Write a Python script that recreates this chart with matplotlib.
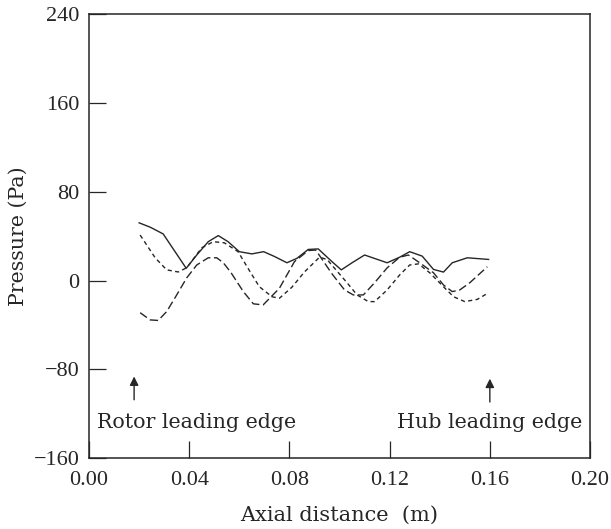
import matplotlib
matplotlib.use("Agg")
import matplotlib.pyplot as plt

# solid curve
x_solid = [0.020, 0.0245, 0.0296, 0.0388, 0.043, 0.0476, 0.0516, 0.0555, 0.060, 0.065,
           0.0697, 0.074, 0.079, 0.083, 0.0875, 0.0915, 0.097, 0.1007, 0.105, 0.110,
           0.1145, 0.119, 0.124, 0.128, 0.133, 0.1375, 0.1415, 0.145, 0.151, 0.1595]
p_solid = [52, 48, 42, 11, 23, 35, 40.5, 35, 26, 24,
           26, 21.7, 16, 20, 28, 28.5, 17, 9.6, 16, 23,
           19.5, 16, 21, 26, 22, 10, 7.6, 16, 20.5, 19]

# short dashed curve
x_short = [0.0204, 0.0264, 0.031, 0.0356, 0.039, 0.045, 0.0496, 0.054, 0.0595, 0.064,
           0.068, 0.073, 0.076, 0.081, 0.086, 0.092, 0.095, 0.0975, 0.103, 0.107,
           0.1115, 0.114, 0.119, 0.124, 0.128, 0.1315, 0.136, 0.1415, 0.1455, 0.150,
           0.155, 0.1595]
p_short = [41, 20.5, 9.6, 7.7, 11.5, 29.5, 35, 34, 26, 9,
           -5.6, -14.6, -16, -6, 7.7, 21, 19, 12.4, -2, -13,
           -19, -19, -8.5, 5, 14, 15, 7, -5.6, -14.6, -19,
           -17, -11]

# long dashed curve
x_long = [0.0204, 0.0244, 0.0276, 0.031, 0.035, 0.039, 0.043, 0.0476, 0.051, 0.0536,
          0.0565, 0.0616, 0.0656, 0.0695, 0.076, 0.082, 0.0875, 0.0905, 0.097, 0.102,
          0.1055, 0.1095, 0.114, 0.119, 0.124, 0.1275, 0.132, 0.1375, 0.1415, 0.145,
          0.148, 0.152, 0.159]
p_long = [-29, -35.5, -36, -28, -13, 2.4, 14, 20.5, 20.5, 16,
          7.7, -10, -21, -22, -7, 17, 27, 27.5, 6, -8.5,
          -13, -13, -2, 11.4, 21, 23, 16, 7, -4, -10,
          -8.5, -2, 12.4]

x_ticks = [0.00, 0.04, 0.08, 0.12, 0.16, 0.20]
x_ticklabels = ['0.00', '0.04', '0.08', '0.12', '0.16', '0.20']
y_ticks = [-160, -80, 0, 80, 160, 240]
y_ticklabels = ['\u2212160', '\u221280', '0', '80', '160', '240']

plt.rcParams['font.family'] = ['DejaVu Serif']

fig = plt.figure(figsize=(6.11, 5.29), dpi=100)
ax = fig.add_axes([0.1457, 0.1342, 0.820, 0.8388])

col = '#262626'
ax.plot(x_solid, p_solid, color=col, lw=1.0)
ax.plot(x_short, p_short, color=col, lw=1.0, dashes=(3.0, 2.4))
ax.plot(x_long, p_long, color=col, lw=1.0, dashes=(6.0, 2.6))

ax.set_xlim(0, 0.20)
ax.set_ylim(-160, 240)
ax.set_xticks(x_ticks)
ax.set_xticklabels(x_ticklabels)
ax.set_yticks(y_ticks)
ax.set_yticklabels(y_ticklabels)
ax.tick_params(direction='in', length=12, width=0.9, colors=col, pad=7)
ax.tick_params(axis='x', pad=9)
for lab in ax.get_xticklabels() + ax.get_yticklabels():
    lab.set_fontfamily('Liberation Serif')
    lab.set_fontsize(16)
for s in ax.spines.values():
    s.set_linewidth(1.1)
    s.set_color(col)

ax.set_xlabel('Axial distance  (m)', fontsize=15, color=col)
ax.set_ylabel('Pressure (Pa)', fontsize=14.8, color=col)
ax.xaxis.set_label_coords(0.5, -0.108)
ax.yaxis.set_label_coords(-0.122, 0.5)

# leading edge markers
ax.annotate('', xy=(0.018, -84), xytext=(0.018, -110),
            arrowprops=dict(arrowstyle='-|>', color=col, lw=1.0, mutation_scale=13))
ax.annotate('', xy=(0.16, -86), xytext=(0.16, -112),
            arrowprops=dict(arrowstyle='-|>', color=col, lw=1.0, mutation_scale=13))
ax.text(0.0032, -133, 'Rotor leading edge', fontsize=14.9, color=col, ha='left', va='baseline')
ax.text(0.197, -133, 'Hub leading edge', fontsize=14.9, color=col, ha='right', va='baseline')

fig.savefig('out.png', dpi=100)
